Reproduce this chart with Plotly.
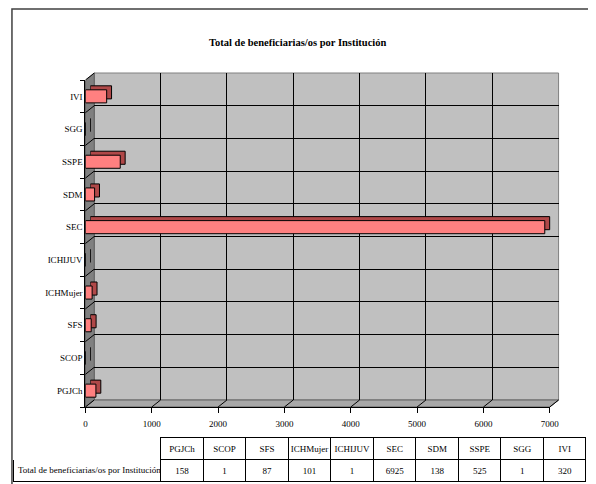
import plotly.graph_objects as go

# datos
instituciones = ["PGJCh", "SCOP", "SFS", "ICHMujer", "ICHIJUV", "SEC", "SDM", "SSPE", "SGG", "IVI"]
beneficiarios = [158, 1, 87, 101, 1, 6925, 138, 525, 1, 320]
serie = "Total de beneficiarias/os por Institución"
x_ticks = [0, 1000, 2000, 3000, 4000, 5000, 6000, 7000]

# the page body has an 8px margin, so the figure is 8px smaller and every
# reference pixel position is shifted by OFF
OFF = 8
W, H = 596 - OFF, 484 - OFF
FONT = "Liberation Serif"


def px(x):
    return (x - OFF) / W


def py(y):
    return 1 - (y - OFF) / H


# back wall / depth / front faces (pixel boxes in the reference)
back = (94, 568, 73, 400)
depth = (90, 564, 76, 403)
front = (85, 559, 80, 407)

fig = go.Figure()

# pared del fondo con rejilla (xy)
fig.add_trace(go.Scatter(x=beneficiarios, y=instituciones, mode="markers",
                         marker=dict(opacity=0), hoverinfo="skip", showlegend=False,
                         xaxis="x", yaxis="y"))
# caras superiores/laterales (x2y2)
fig.add_trace(go.Bar(x=beneficiarios, y=instituciones, orientation="h",
                     marker=dict(color="#B04848", line=dict(color="black", width=1)),
                     showlegend=False, xaxis="x2", yaxis="y2"))
# cara frontal (x3y3)
fig.add_trace(go.Bar(x=beneficiarios, y=instituciones, orientation="h", name=serie,
                     marker=dict(color="#FF8080", line=dict(color="black", width=1)),
                     showlegend=False, xaxis="x3", yaxis="y3"))

cat_axis = dict(type="category", categoryorder="array", categoryarray=instituciones,
                range=[-0.5, len(instituciones) - 0.5])

fig.update_layout(
    xaxis=dict(domain=[px(back[0]), px(back[1])], range=[0, 7000], dtick=1000,
               showgrid=True, gridcolor="black", gridwidth=1, showticklabels=False,
               zeroline=False, anchor="y"),
    yaxis=dict(domain=[py(back[3]), py(back[2])], showgrid=True, gridcolor="black",
               tickson="boundaries", showticklabels=False, ticks="", anchor="x", **cat_axis),
    xaxis2=dict(domain=[px(depth[0]), px(depth[1])], range=[0, 7000], visible=False, anchor="y2"),
    yaxis2=dict(domain=[py(depth[3]), py(depth[2])], visible=False, anchor="x2", **cat_axis),
    xaxis3=dict(domain=[px(front[0]), px(front[1])], range=[0, 7000], tickvals=x_ticks,
                showgrid=False, zeroline=False, showline=True, linecolor="black", linewidth=1,
                ticks="outside", ticklen=5, tickcolor="black", ticklabelstandoff=3,
                tickfont=dict(family=FONT, size=9, color="black"), anchor="y3"),
    yaxis3=dict(domain=[py(front[3]), py(front[2])], showgrid=False, showline=True,
                linecolor="black", linewidth=1, tickson="boundaries", ticks="outside",
                ticklen=4, tickcolor="black", tickfont=dict(family=FONT, size=9, color="black"),
                anchor="x3", **cat_axis),
    bargap=0.6,
    plot_bgcolor="rgba(0,0,0,0)",
    paper_bgcolor="white",
    width=W, height=H,
    margin=dict(l=0, r=0, t=0, b=0),
)

shapes = []
# marco exterior
shapes.append(dict(type="rect", xref="paper", yref="paper", x0=px(10), x1=px(600),
                   y0=py(490), y1=py(9), line=dict(color="#404040", width=1.5),
                   fillcolor="rgba(0,0,0,0)", layer="below"))
# pared del fondo
shapes.append(dict(type="rect", xref="paper", yref="paper", x0=px(back[0]), x1=px(back[1]),
                   y0=py(back[3]), y1=py(back[2]), fillcolor="#C0C0C0",
                   line=dict(color="#808080", width=1), layer="below"))
# pared izquierda
shapes.append(dict(type="path", xref="paper", yref="paper",
                   path=f"M {px(front[0])},{py(front[3])} L {px(front[0])},{py(front[2] + 1)} "
                        f"L {px(back[0])},{py(back[2])} L {px(back[0])},{py(back[3])} Z",
                   fillcolor="#808080", line=dict(color="#606060", width=1), layer="below"))
# piso
shapes.append(dict(type="path", xref="paper", yref="paper",
                   path=f"M {px(front[0])},{py(front[3])} L {px(front[1])},{py(front[3])} "
                        f"L {px(back[1])},{py(back[3])} L {px(back[0])},{py(back[3])} Z",
                   fillcolor="#A8A8A8", line=dict(color="#606060", width=1), layer="below"))
# lineas diagonales del piso
fw = front[1] - front[0]
for v in x_ticks:
    f = v / 7000
    shapes.append(dict(type="line", xref="paper", yref="paper",
                       x0=px(front[0] + f * fw), y0=py(front[3]),
                       x1=px(back[0] + f * fw), y1=py(back[3]),
                       line=dict(color="black", width=1), layer="below"))
# lineas diagonales de la pared izquierda
fh = front[3] - front[2]
n = len(instituciones)
for i in range(n):
    f = i / n
    shapes.append(dict(type="line", xref="paper", yref="paper",
                       x0=px(front[0]), y0=py(front[2] + f * fh),
                       x1=px(back[0]), y1=py(back[2] + f * fh),
                       line=dict(color="black", width=1), layer="below"))
fig.update_layout(shapes=shapes)

fig.add_annotation(text="<b>" + serie + "</b>", xref="paper", yref="paper",
                   x=px(302), y=py(35), showarrow=False,
                   font=dict(family=FONT, size=10.5, color="black"))

# tabla de datos (la etiqueta de la fila va como anotacion para que no se parta)
tbl_top, row_h = 437, 22
fig.add_trace(go.Table(
    domain=dict(x=[px(12), 1], y=[0, py(tbl_top)]),
    columnwidth=[150] + [43.4] * len(instituciones),
    header=dict(values=[""] + instituciones, height=row_h, fill_color="white",
                line=dict(color=["white"] + ["black"] * len(instituciones), width=1),
                font=dict(family=FONT, size=9, color="black"), align="center"),
    cells=dict(values=[[""]] + [[v] for v in beneficiarios], height=row_h,
               fill_color="white", line=dict(color="black", width=1),
               font=dict(family=FONT, size=9, color="black"),
               align=["left"] + ["center"] * len(instituciones)),
))
fig.add_annotation(text=serie, xref="paper", yref="paper", x=px(14), xanchor="left",
                   y=py(tbl_top + row_h * 1.5), yanchor="middle", showarrow=False,
                   font=dict(family=FONT, size=9, color="black"))

fig.write_html("out.html")
